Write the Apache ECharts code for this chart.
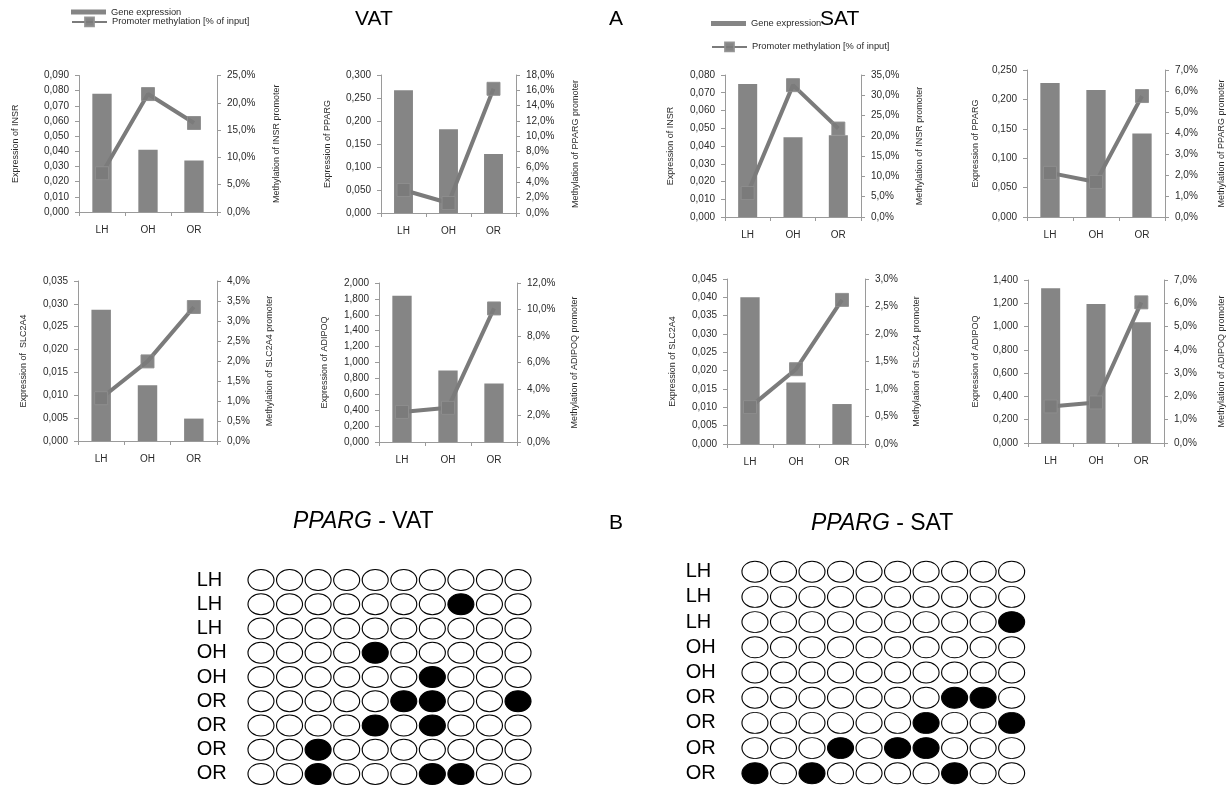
<!DOCTYPE html>
<html><head><meta charset="utf-8">
<script src="https://cdn.jsdelivr.net/npm/echarts@6/dist/echarts.min.js"></script>
<style>html,body{margin:0;padding:0;background:#fff}#c{width:1227px;height:792px}</style>
</head><body><div id="c"></div>
<script>
// ---------------- DATA ----------------
const groups = ['LH', 'OH', 'OR'];

// VAT (expression, methylation in % of input)
const vatInsrExpr   = [0.078, 0.041, 0.034];
const vatInsrMeth   = [7.1, 21.6, 16.3];
const vatPpargExpr  = [0.267, 0.182, 0.128];
const vatPpargMeth  = [3.0, 1.3, 16.2];
const vatSlc2a4Expr = [0.0287, 0.0122, 0.0049];
const vatSlc2a4Meth = [1.07, 1.99, 3.35];
const vatAdipoqExpr = [1.84, 0.90, 0.737];
const vatAdipoqMeth = [2.27, 2.58, 10.08];

// SAT
const satInsrExpr   = [0.075, 0.045, 0.046];
const satInsrMeth   = [5.9, 32.5, 21.8];
const satPpargExpr  = [0.228, 0.216, 0.142];
const satPpargMeth  = [2.1, 1.67, 5.76];
const satSlc2a4Expr = [0.040, 0.0168, 0.0109];
const satSlc2a4Meth = [0.67, 1.36, 2.62];
const satAdipoqExpr = [1.329, 1.194, 1.037];
const satAdipoqMeth = [1.57, 1.74, 6.04];

// axis ranges [max, interval] (left = expression, right = methylation %)
const vatInsrTicks   = [[0.09, 0.01], [25, 5]];
const vatPpargTicks  = [[0.30, 0.05], [18, 2]];
const vatSlc2a4Ticks = [[0.035, 0.005], [4, 0.5]];
const vatAdipoqTicks = [[2.0, 0.2], [12, 2]];
const satInsrTicks   = [[0.08, 0.01], [35, 5]];
const satPpargTicks  = [[0.25, 0.05], [7, 1]];
const satSlc2a4Ticks = [[0.045, 0.005], [3, 0.5]];
const satAdipoqTicks = [[1.4, 0.2], [7, 1]];

// PPARG CpG lattice: rows (samples) and methylated CpG positions (1-based)
const latticeRows = ['LH', 'LH', 'LH', 'OH', 'OH', 'OR', 'OR', 'OR', 'OR'];
const cpgSites = ['1', '2', '3', '4', '5', '6', '7', '8', '9', '10'];
const vatMethylatedCpG = [[], [8], [], [5], [7], [6, 7, 10], [5, 7], [3], [3, 7, 8]];
const satMethylatedCpG = [[], [], [10], [], [], [8, 9], [7, 10], [4, 6, 7], [1, 3, 8]];

// ---------------- LAYOUT ----------------
const FONT = 'Liberation Sans, Arial, sans-serif';
const panels = [
  {expr: vatInsrExpr,   meth: vatInsrMeth,   ticks: vatInsrTicks,   lname: 'Expression of INSR',    rname: 'Methylation of INSR promoter',   box: [79, 75.5, 138, 136.5],  gaps: [59, 55]},
  {expr: vatPpargExpr,  meth: vatPpargMeth,  ticks: vatPpargTicks,  lname: 'Expression of PPARG',   rname: 'Methylation of PPARG promoter',  box: [381, 75, 135, 138],  gaps: [49, 55]},
  {expr: satInsrExpr,   meth: satInsrMeth,   ticks: satInsrTicks,   lname: 'Expression of INSR',    rname: 'Methylation of INSR promoter',   box: [725, 75, 136, 142],  gaps: [50, 54]},
  {expr: satPpargExpr,  meth: satPpargMeth,  ticks: satPpargTicks,  lname: 'Expression of PPARG',   rname: 'Methylation of PPARG promoter',  box: [1027, 70, 138, 147], gaps: [47, 52]},
  {expr: vatSlc2a4Expr, meth: vatSlc2a4Meth, ticks: vatSlc2a4Ticks, lname: 'Expression of  SLC2A4', rname: 'Methylation of SLC2A4 promoter', box: [78, 281, 139, 160],  gaps: [50, 48]},
  {expr: vatAdipoqExpr, meth: vatAdipoqMeth, ticks: vatAdipoqTicks, lname: 'Expression of ADIPOQ',  rname: 'Methylation of ADIPOQ promoter', box: [379, 283, 138, 159], gaps: [50, 53]},
  {expr: satSlc2a4Expr, meth: satSlc2a4Meth, ticks: satSlc2a4Ticks, lname: 'Expression of SLC2A4',  rname: 'Methylation of SLC2A4 promoter', box: [727, 279, 138, 165], gaps: [50, 47]},
  {expr: satAdipoqExpr, meth: satAdipoqMeth, ticks: satAdipoqTicks, lname: 'Expression of ADIPOQ',  rname: 'Methylation of ADIPOQ promoter', box: [1028, 280, 137, 163], gaps: [48, 53]}
];
const lattices = [
  {rows: latticeRows, meth: vatMethylatedCpG, box: [246.7, 567.9, 285.6, 218.2], labelMargin: 50},
  {rows: latticeRows, meth: satMethylatedCpG, box: [740.7, 559.1, 285.2, 226.8], labelMargin: 55}
];

const AXIS = '#9a9a9a', TXT = '#2a2a2a', BAR = '#858585', LINE = '#7b7b7b';
const fmtL = v => v.toFixed(3).replace('.', ',');
const fmtR = v => v.toFixed(1).replace('.', ',') + '%';

const grid = [], xAxis = [], yAxis = [], series = [];
panels.forEach((p, i) => {
  grid.push({left: p.box[0], top: p.box[1], width: p.box[2], height: p.box[3]});
  xAxis.push({
    type: 'category', gridIndex: i, data: groups,
    axisLine: {lineStyle: {color: AXIS, width: 1}},
    axisTick: {show: true, length: 4, lineStyle: {color: AXIS}},
    axisLabel: {fontFamily: FONT, fontSize: 10, color: TXT, margin: 13}
  });
  yAxis.push({
    type: 'value', gridIndex: i, position: 'left', min: 0, max: p.ticks[0][0], interval: p.ticks[0][1],
    splitLine: {show: false},
    axisLine: {show: true, lineStyle: {color: AXIS}},
    axisTick: {show: true, length: 4, lineStyle: {color: AXIS}},
    axisLabel: {fontFamily: FONT, fontSize: 10, color: TXT, margin: 10, formatter: fmtL},
    name: p.lname, nameLocation: 'middle', nameGap: p.gaps[0], nameRotate: 90,
    nameTextStyle: {fontFamily: FONT, fontSize: 9, color: TXT}
  });
  yAxis.push({
    type: 'value', gridIndex: i, position: 'right', min: 0, max: p.ticks[1][0], interval: p.ticks[1][1],
    splitLine: {show: false},
    axisLine: {show: true, lineStyle: {color: AXIS}},
    axisTick: {show: true, length: 4, lineStyle: {color: AXIS}},
    axisLabel: {fontFamily: FONT, fontSize: 10, color: TXT, margin: 10, formatter: fmtR},
    name: p.rname, nameLocation: 'middle', nameGap: p.gaps[1], nameRotate: 90,
    nameTextStyle: {fontFamily: FONT, fontSize: 9, color: TXT}
  });
  series.push({
    type: 'bar', name: 'Gene expression', xAxisIndex: i, yAxisIndex: 2 * i,
    data: p.expr, barWidth: '42%', itemStyle: {color: BAR}, z: 2
  });
  series.push({
    type: 'line', name: 'Promoter methylation [% of input]', xAxisIndex: i, yAxisIndex: 2 * i + 1,
    data: p.meth, symbol: 'rect', symbolSize: 13,
    lineStyle: {color: LINE, width: 4},
    itemStyle: {color: LINE, opacity: 0.92, borderColor: '#8e8e8e', borderWidth: 1}, z: 3
  });
});

lattices.forEach((L, k) => {
  const gi = panels.length + k;
  grid.push({left: L.box[0], top: L.box[1], width: L.box[2], height: L.box[3]});
  xAxis.push({type: 'category', gridIndex: gi, data: cpgSites, show: false});
  yAxis.push({
    type: 'category', gridIndex: gi, data: L.rows, inverse: true,
    axisLine: {show: false}, axisTick: {show: false}, splitLine: {show: false},
    axisLabel: {interval: 0, fontFamily: FONT, fontSize: 20, color: '#000', align: 'left', margin: L.labelMargin}
  });
  const empty = [], filled = [];
  L.rows.forEach((r, ri) => {
    cpgSites.forEach((c, ci) => {
      if (L.meth[ri].includes(ci + 1)) filled.push([ci, ri]); else empty.push([ci, ri]);
    });
  });
  const base = {type: 'scatter', xAxisIndex: gi, yAxisIndex: yAxis.length - 1, symbol: 'circle', symbolSize: [26, 21]};
  series.push(Object.assign({}, base, {name: 'unmethylated', data: empty, itemStyle: {color: '#fff', borderColor: '#000', borderWidth: 1, opacity: 1}}));
  series.push(Object.assign({}, base, {name: 'methylated', data: filled, itemStyle: {color: '#000', borderColor: '#000', borderWidth: 1, opacity: 1}}));
});

const legendBase = {orient: 'vertical', padding: 0, itemWidth: 35, selectedMode: false,
  textStyle: {fontFamily: FONT, fontSize: 9.3, color: TXT}};
const legend = [
  Object.assign({}, legendBase, {left: 71, top: 7.5, itemHeight: 5, data: [{name: 'Gene expression', icon: 'rect'}]}),
  Object.assign({}, legendBase, {left: 71, top: 16.5, itemHeight: 11, data: ['Promoter methylation [% of input]']}),
  Object.assign({}, legendBase, {left: 711, top: 19, itemHeight: 5, data: [{name: 'Gene expression', icon: 'rect'}]}),
  Object.assign({}, legendBase, {left: 711, top: 41.5, itemHeight: 11, data: ['Promoter methylation [% of input]']})
];

const tStyle = {fontFamily: FONT, fontSize: 21, fontWeight: 'normal', color: '#000'};
const latStyle = {fontFamily: FONT, fontSize: 23, fontWeight: 'normal', color: '#000',
  rich: {i: {fontFamily: FONT, fontSize: 23, fontStyle: 'italic', color: '#000'}}};
const title = [
  {text: 'VAT', left: 355, top: 9, padding: 0, textStyle: tStyle},
  {text: 'A', left: 609, top: 9, padding: 0, textStyle: tStyle},
  {text: 'SAT', left: 820, top: 9, padding: 0, textStyle: tStyle},
  {text: 'B', left: 609, top: 513, padding: 0, textStyle: tStyle},
  {text: '{i|PPARG} - VAT', left: 293, top: 510, padding: 0, textStyle: latStyle},
  {text: '{i|PPARG} - SAT', left: 811, top: 512, padding: 0, textStyle: latStyle}
];

const chart = echarts.init(document.getElementById('c'), null, {renderer: 'canvas'});
chart.setOption({
  animation: false, backgroundColor: '#fff',
  title, legend, grid, xAxis, yAxis, series
});
</script>
</body></html>
